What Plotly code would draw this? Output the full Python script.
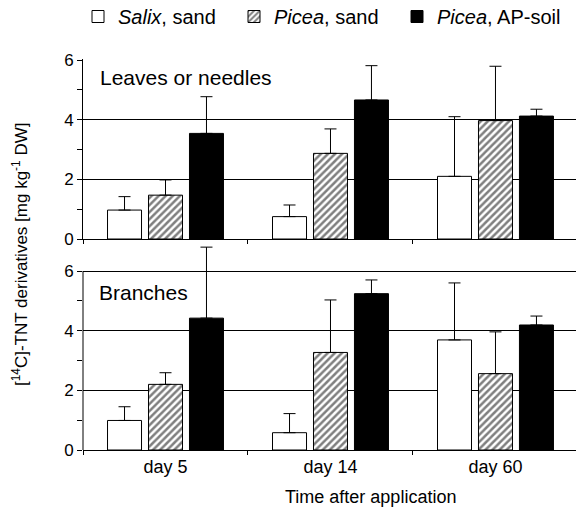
import plotly.graph_objects as go

# ---------------- data ----------------
categories = ["day 5", "day 14", "day 60"]
series_names = ["<i>Salix</i>, sand", "<i>Picea</i>, sand", "<i>Picea</i>, AP-soil"]

leaves_salix = [0.97, 0.75, 2.10]
leaves_salix_err = [0.45, 0.39, 2.00]
leaves_picea_sand = [1.47, 2.87, 3.97]
leaves_picea_sand_err = [0.51, 0.82, 1.82]
leaves_picea_ap = [3.54, 4.66, 4.12]
leaves_picea_ap_err = [1.23, 1.15, 0.23]

branches_salix = [0.99, 0.58, 3.69]
branches_salix_err = [0.46, 0.64, 1.91]
branches_picea_sand = [2.20, 3.27, 2.56]
branches_picea_sand_err = [0.39, 1.76, 1.40]
branches_picea_ap = [4.42, 5.24, 4.19]
branches_picea_ap_err = [2.38, 0.46, 0.30]

y_tickvals = [0, 2, 4, 6]
y_minor_tickvals = [1, 3, 5]

# ---------------- layout helpers ----------------
W, H = 576, 510
FONT = "Liberation Sans, Arial, sans-serif"


def fx(px):
    return px / W


def fy(py):
    return 1 - py / H


unit_px = 179 / 6.0
top_range = [0, 6.02]
bot_range = [0, 6.9]
top_dom = [fy(239), fy(239 - top_range[1] * unit_px)]
bot_dom = [fy(450), fy(450 - bot_range[1] * unit_px)]

styles = [
    dict(color="white", line=dict(color="black", width=1)),
    dict(color="white", line=dict(color="black", width=1),
         pattern=dict(shape="/", fgcolor="black", bgcolor="white", size=5, solidity=0.5)),
    dict(color="black", line=dict(color="black", width=1)),
]
legend_ids = ["legend", "legend2", "legend3"]
legend_x_px = [78, 234, 397]

fig = go.Figure()

panels = [
    ("x", "y", [leaves_salix, leaves_picea_sand, leaves_picea_ap],
     [leaves_salix_err, leaves_picea_sand_err, leaves_picea_ap_err], True),
    ("x2", "y2", [branches_salix, branches_picea_sand, branches_picea_ap],
     [branches_salix_err, branches_picea_sand_err, branches_picea_ap_err], False),
]

for xa, ya, vals, errs, show in panels:
    for i in range(3):
        fig.add_trace(go.Bar(
            x=categories, y=vals[i], name=series_names[i],
            marker=styles[i], xaxis=xa, yaxis=ya,
            showlegend=show, legendgroup=str(i), legend=legend_ids[i],
            error_y=dict(type="data", symmetric=False, array=errs[i],
                         arrayminus=[0] * len(errs[i]), color="black",
                         thickness=1, width=6),
        ))

xcommon = dict(
    type="category", range=[-0.5, 2.488], domain=[fx(83), 1.0],
    showline=True, linecolor="black", linewidth=1,
    ticks="outside", tickson="boundaries", ticklen=4, tickcolor="black",
    showgrid=False, zeroline=False, automargin=False,
    tickfont=dict(family=FONT, size=18, color="black"),
)
ycommon = dict(
    tickvals=y_tickvals, ticks="outside", ticklen=5, tickcolor="black",
    minor=dict(tickvals=y_minor_tickvals, ticks="outside", ticklen=5,
               tickcolor="black", showgrid=False),
    showgrid=True, gridcolor="black", gridwidth=1, zeroline=False,
    automargin=False, tickfont=dict(family=FONT, size=17, color="black"),
)

legend_style = dict(orientation="h", y=1 + 3 / H, xanchor="left", yanchor="top",
                    font=dict(family=FONT, size=20, color="black"),
                    bgcolor="rgba(0,0,0,0)")

fig.update_layout(
    width=W, height=H,
    margin=dict(l=0, r=0, t=0, b=0, autoexpand=False),
    paper_bgcolor="white", plot_bgcolor="white",
    barmode="group", bargap=0.255, bargroupgap=0.17,
    font=dict(family=FONT, color="black"),
    xaxis=dict(xcommon, anchor="y", showticklabels=False),
    xaxis2=dict(xcommon, anchor="y2", showticklabels=True),
    yaxis=dict(ycommon, domain=top_dom, range=top_range, anchor="x",
               showline=True, linecolor="black", linewidth=1),
    yaxis2=dict(ycommon, domain=bot_dom, range=bot_range, anchor="x2",
                showline=False),
    legend=dict(legend_style, x=fx(legend_x_px[0])),
    legend2=dict(legend_style, x=fx(legend_x_px[1])),
    legend3=dict(legend_style, x=fx(legend_x_px[2])),
    shapes=[
        dict(type="line", xref="paper", yref="y2", x0=fx(83), x1=fx(83), y0=0, y1=6,
             line=dict(color="black", width=1)),
    ],
    annotations=[
        dict(text="Leaves or needles", xref="paper", yref="paper", x=fx(98), y=fy(77),
             xanchor="left", yanchor="middle", showarrow=False,
             font=dict(family=FONT, size=21, color="black")),
        dict(text="Branches", xref="paper", yref="paper", x=fx(97), y=fy(292),
             xanchor="left", yanchor="middle", showarrow=False,
             font=dict(family=FONT, size=21, color="black")),
        dict(text="Time after application", xref="paper", yref="paper", x=fx(370), y=fy(497),
             xanchor="center", yanchor="middle", showarrow=False,
             font=dict(family=FONT, size=18, color="black")),
        dict(text="[<sup>14</sup>C]-TNT derivatives [mg kg<sup>-1</sup> DW]",
             xref="paper", yref="paper", x=fx(20), y=fy(255), textangle=-90,
             xanchor="center", yanchor="middle", showarrow=False,
             font=dict(family=FONT, size=17, color="black")),
    ],
)

fig.write_html("out.html")
